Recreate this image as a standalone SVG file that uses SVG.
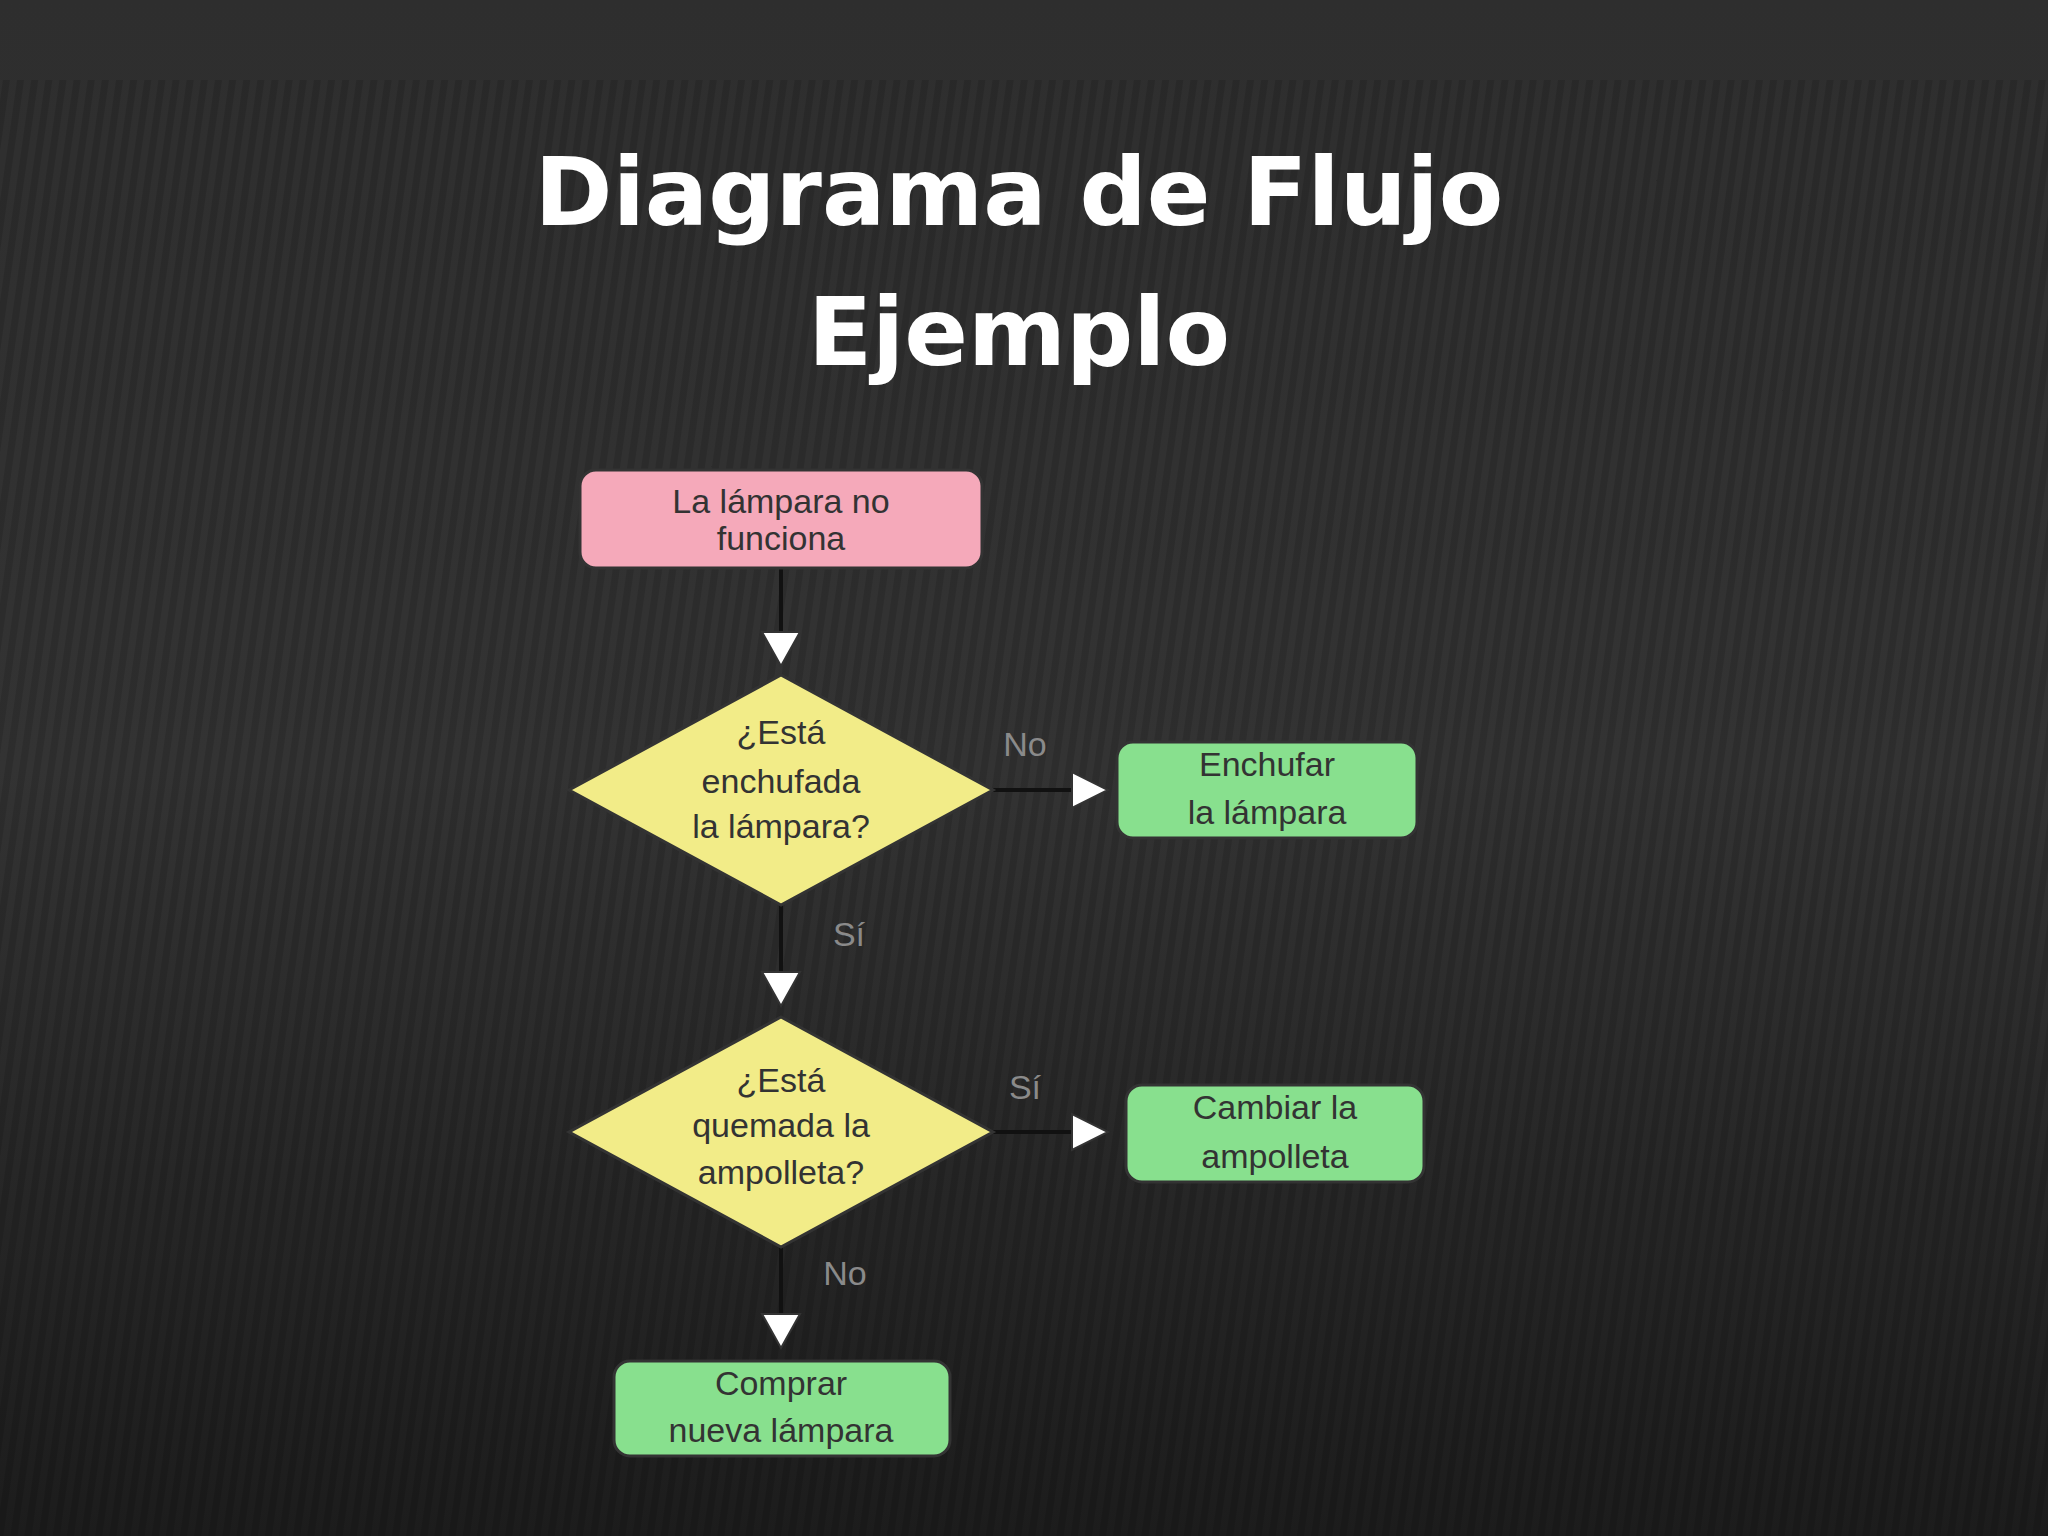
<svg xmlns="http://www.w3.org/2000/svg" width="2048" height="1536" viewBox="0 0 2048 1536">
<defs>
<linearGradient id="bg" x1="0" y1="0" x2="0" y2="1"><stop offset="0" stop-color="#2e2e2e"/><stop offset="0.5" stop-color="#333"/><stop offset="1" stop-color="#1c1c1c"/></linearGradient>
<pattern id="st" width="14" height="14" patternUnits="userSpaceOnUse" patternTransform="rotate(8)"><rect width="7" height="14" fill="#000" opacity="0.12"/></pattern>
</defs>
<style>
.t{font-family:"Liberation Sans",Arial,sans-serif;font-size:34px;fill:#333;text-anchor:middle}
.l{font-family:"Liberation Sans",Arial,sans-serif;font-size:34px;fill:#8a8a8a;text-anchor:middle}
.h{font-family:"DejaVu Sans",sans-serif;font-weight:bold;font-size:94px;fill:#fff;text-anchor:middle}
.box{stroke:#333;stroke-width:3}
.g{fill:#88e08e}
.y{fill:#f2ec88}
.ln{stroke:#111;stroke-width:4;fill:none}
.ah{fill:#fff;stroke:#333;stroke-width:2}
</style>
<rect width="2048" height="1536" fill="url(#bg)"/>
<rect y="80" width="2048" height="1456" fill="url(#st)"/>
<g id="title">
<text class="h" x="1019" y="225">Diagrama de Flujo</text>
<text class="h" x="1019" y="365">Ejemplo</text>
</g>
<g id="connectors">
<line class="ln" x1="781" y1="568" x2="781" y2="632"/>
<polygon class="ah" points="762,632 800,632 781,666"/>
<line class="ln" x1="993" y1="790" x2="1072" y2="790"/>
<polygon class="ah" points="1072,772 1072,808 1108,790"/>
<line class="ln" x1="781" y1="905" x2="781" y2="972"/>
<polygon class="ah" points="762,972 800,972 781,1006"/>
<line class="ln" x1="993" y1="1132" x2="1072" y2="1132"/>
<polygon class="ah" points="1072,1114 1072,1150 1108,1132"/>
<line class="ln" x1="781" y1="1247" x2="781" y2="1314"/>
<polygon class="ah" points="762,1314 800,1314 781,1348"/>
<text class="l" x="1025" y="756">No</text>
<text class="l" x="849" y="946">Sí</text>
<text class="l" x="1025" y="1099">Sí</text>
<text class="l" x="845" y="1285">No</text>
</g>
<g id="start">
<rect class="box" x="580" y="470" width="402" height="98" rx="16" fill="#f5a9ba"/>
<text class="t" x="781" y="513">La lámpara no</text>
<text class="t" x="781" y="550">funciona</text>
</g>
<g id="d1">
<polygon class="box y" points="781,675 993,790 781,905 569,790"/>
<text class="t" x="781" y="744">¿Está</text>
<text class="t" x="781" y="793">enchufada</text>
<text class="t" x="781" y="838">la lámpara?</text>
</g>
<g id="enchufar">
<rect class="box g" x="1117" y="742" width="300" height="96" rx="16"/>
<text class="t" x="1267" y="776">Enchufar</text>
<text class="t" x="1267" y="824">la lámpara</text>
</g>
<g id="d2">
<polygon class="box y" points="781,1017 993,1132 781,1247 569,1132"/>
<text class="t" x="781" y="1092">¿Está</text>
<text class="t" x="781" y="1137">quemada la</text>
<text class="t" x="781" y="1184">ampolleta?</text>
</g>
<g id="cambiar">
<rect class="box g" x="1126" y="1085" width="298" height="97" rx="16"/>
<text class="t" x="1275" y="1119">Cambiar la</text>
<text class="t" x="1275" y="1168">ampolleta</text>
</g>
<g id="comprar">
<rect class="box g" x="614" y="1361" width="336" height="95" rx="16"/>
<text class="t" x="781" y="1395">Comprar</text>
<text class="t" x="781" y="1442">nueva lámpara</text>
</g>
</svg>
